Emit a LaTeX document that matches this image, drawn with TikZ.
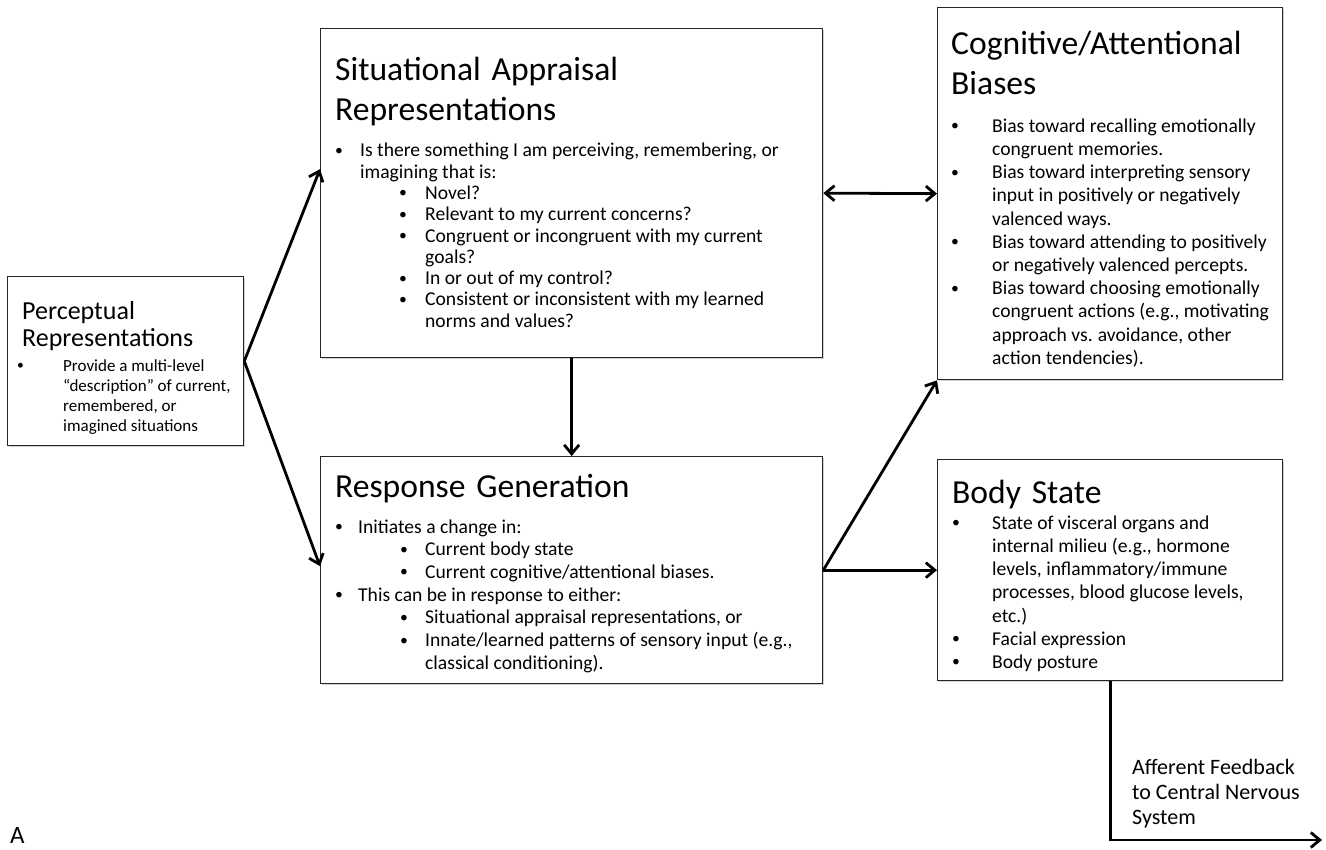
\documentclass[tikz,border=0pt]{standalone}
\usepackage{fontspec}
\usepackage{graphicx}
\setmainfont{Carlito}
\usetikzlibrary{arrows.meta,shadows,calc}
\setlength{\parindent}{0pt}
\newcommand\smbul{\raisebox{0.08em}{\scalebox{0.8}{\textbullet}}}
\newcommand\bitem[3]{\par\noindent\hspace*{#1}\makebox[#2][l]{\smbul}#3}
\newcommand\cont[2]{\par\noindent\hspace*{#1}#2}
\newcommand\ttl{\fontsize{33.6}{40}\selectfont\spaceskip=0.32em plus 0.1em\relax}
\newcommand\bdy[2]{\fontsize{#1}{#2}\selectfont\spaceskip=0pt\relax}
\begin{document}
\begin{tikzpicture}[x=1pt,y=-1pt,
  box/.style={draw=black!85, line width=1.3pt, fill=white,
    drop shadow={shadow xshift=1.5pt,shadow yshift=-1.5pt,opacity=0.35},
    anchor=north west, inner sep=0},
  txt/.style={anchor=north west, inner sep=0, text width=520pt, align=left},
  conn/.style={line width=2.8pt, -{Straight Barb[length=9pt,width=15pt]}},
]
\fill[white] (0,0) rectangle (1326,850);
\useasboundingbox (0,0) rectangle (1326,850);

% boxes
\node[box, minimum width=236pt, minimum height=169pt] (per) at (7,276) {};
\node[box, minimum width=502pt, minimum height=329pt] (sit) at (320,28) {};
\node[box, minimum width=502pt, minimum height=227pt] (resp) at (320,456) {};
\node[box, minimum width=345pt, minimum height=372pt] (cog) at (937,7) {};
\node[box, minimum width=345pt, minimum height=221pt] (body) at (937,459) {};

% texts
\node[txt] (pertxt) at (22,301) {\bdy{26}{27}Perceptual\par Representations\par\vspace{5pt}\bdy{17}{20}%
\bitem{-5pt}{46pt}{Provide a multi-level}
\cont{41pt}{“description” of current,}
\cont{41pt}{remembered, or}
\cont{41pt}{imagined situations}\par};

\node[txt] (sittxt) at (335,57) {\ttl Situational Appraisal\par Representations\par\vspace{15pt}\bdy{19.6}{21.3}%
\bitem{0pt}{25pt}{Is there something I am perceiving, remembering, or}
\cont{25pt}{imagining that is:}
\bitem{64pt}{26pt}{Novel?}
\bitem{64pt}{26pt}{Relevant to my current concerns?}
\bitem{64pt}{26pt}{Congruent or incongruent with my current}
\cont{90pt}{goals?}
\bitem{64pt}{26pt}{In or out of my control?}
\bitem{64pt}{26pt}{Consistent or inconsistent with my learned}
\cont{90pt}{norms and values?}\par};

\node[txt] (resptxt) at (335,474) {\ttl Response Generation\par\vspace{13pt}\bdy{19.6}{22.7}%
\bitem{0pt}{23pt}{Initiates a change in:}
\bitem{65pt}{25pt}{Current body state}
\bitem{65pt}{25pt}{Current cognitive/attentional biases.}
\bitem{0pt}{23pt}{This can be in response to either:}
\bitem{65pt}{25pt}{Situational appraisal representations, or}
\bitem{65pt}{25pt}{Innate/learned patterns of sensory input (e.g.,}
\cont{90pt}{classical conditioning).}\par};

\node[txt] (cogtxt) at (951,31) {\ttl Cognitive/Attentional\par Biases\par\vspace{14.5pt}\bdy{19.6}{23.2}%
\bitem{0pt}{41pt}{Bias toward recalling emotionally}
\cont{41pt}{congruent memories.}
\bitem{0pt}{41pt}{Bias toward interpreting sensory}
\cont{41pt}{input in positively or negatively}
\cont{41pt}{valenced ways.}
\bitem{0pt}{41pt}{Bias toward attending to positively}
\cont{41pt}{or negatively valenced percepts.}
\bitem{0pt}{41pt}{Bias toward choosing emotionally}
\cont{41pt}{congruent actions (e.g., motivating}
\cont{41pt}{approach vs. avoidance, other}
\cont{41pt}{action tendencies).}\par};

\node[txt] (bodytxt) at (952,480) {\ttl Body State\par\vspace{2.5pt}\bdy{19.6}{23.2}%
\bitem{0pt}{40pt}{State of visceral organs and}
\cont{40pt}{internal milieu (e.g., hormone}
\cont{40pt}{levels, inflammatory/immune}
\cont{40pt}{processes, blood glucose levels,}
\cont{40pt}{etc.)}
\bitem{0pt}{40pt}{Facial expression}
\bitem{0pt}{40pt}{Body posture}\par};

\node[txt] (afftxt) at (1132,759) {\bdy{22}{25}Afferent Feedback\par to Central Nervous\par System\par};

\node[anchor=base west, inner sep=0, font=\fontsize{25}{28}\selectfont] (lblA) at (10,843) {A};

% connectors
\coordinate (out) at (1322,840);
\draw[conn] (per.east) -- ($(sit.west)+(0,-24)$);
\draw[conn] (per.east) -- ($(resp.west)+(0,-4)$);
\draw[conn] (sit.south) -- (resp.north);
\draw[line width=2.8pt, {Straight Barb[length=9pt,width=15pt]}-{Straight Barb[length=9pt,width=15pt]}] (sit.east) -- (cog.west);
\draw[conn] (resp.east) -- (cog.south west);
\draw[conn] (resp.east) -- (body.west);
\draw[conn] (body.south) |- (out);
\end{tikzpicture}
\end{document}
